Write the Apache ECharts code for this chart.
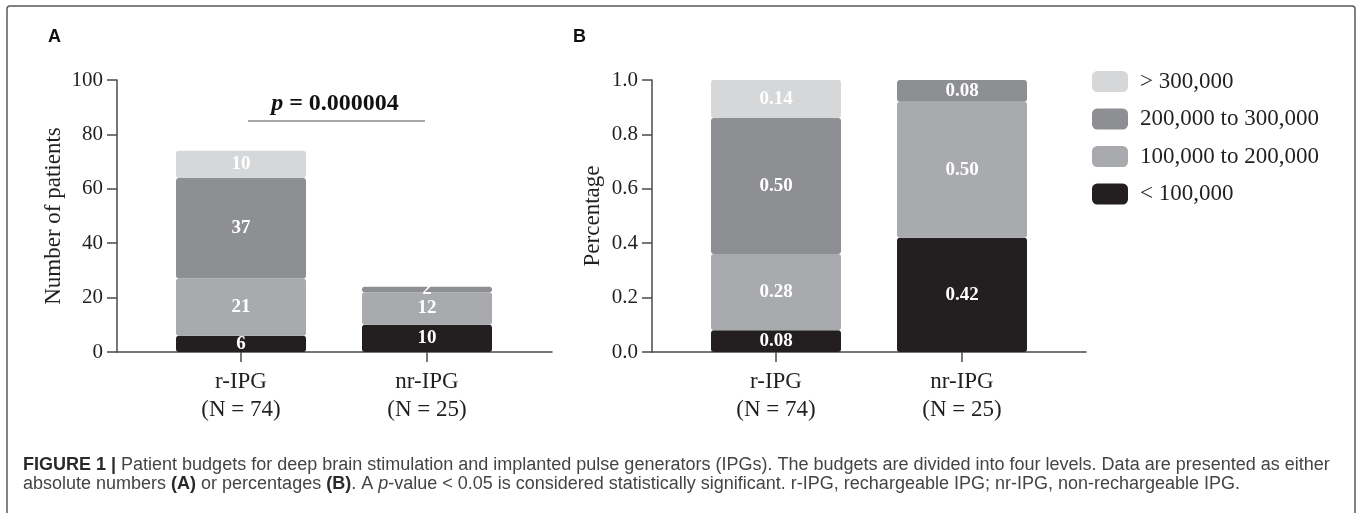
<!DOCTYPE html>
<html>
<head>
<meta charset="utf-8">
<script src="https://cdn.jsdelivr.net/npm/echarts@6/dist/echarts.min.js"></script>
<style>
html,body{margin:0;padding:0;background:#fff;}
#chart{width:1357px;height:513px;}
</style>
</head>
<body>
<div id="chart"></div>
<script>
// ---- data ----
const categories = ['r-IPG\n(N = 74)', 'nr-IPG\n(N = 25)'];
const levels = ['< 100,000', '100,000 to 200,000', '200,000 to 300,000', '> 300,000'];
const legendOrder = ['> 300,000', '200,000 to 300,000', '100,000 to 200,000', '< 100,000'];
// Panel A: number of patients
const countLt100k = [6, 10];
const count100to200k = [21, 12];
const count200to300k = [37, 2];
const countGt300k = [10, null];
// Panel B: percentage
const pctLt100k = [0.08, 0.42];
const pct100to200k = [0.28, 0.50];
const pct200to300k = [0.50, 0.08];
const pctGt300k = [0.14, null];
const yTicksA = [0, 20, 40, 60, 80, 100];
const yTicksB = [0, 0.2, 0.4, 0.6, 0.8, 1.0];
const pValueText = '0.000004';

const colors = ['#231f20', '#a9aaae', '#8e8f93', '#d6d7d9'];
const serif = '"Liberation Serif", "Times New Roman", serif';
const axisColor = '#4a4a4a';
const textColor = '#231f20';

const seriesA = [countLt100k, count100to200k, count200to300k, countGt300k];
const seriesB = [pctLt100k, pct100to200k, pct200to300k, pctGt300k];

function makeSeries(arrs, axisIdx, fmt) {
  return arrs.map((arr, k) => ({
    name: levels[k],
    type: 'bar',
    xAxisIndex: axisIdx,
    yAxisIndex: axisIdx,
    stack: 'g' + axisIdx,
    barWidth: 130,
    data: arr.map(v => (v == null ? '-' : v)),
    itemStyle: { color: colors[k], borderRadius: 3 },
    label: {
      show: true, position: 'inside', color: '#ffffff',
      fontFamily: serif, fontWeight: 'bold', fontSize: 19,
      formatter: p => (typeof p.value === 'number' ? fmt(p.value) : '')
    },
    emphasis: { disabled: true }
  }));
}

// wide frame axis: only the horizontal axis line
function frameXAxis(gridIdx) {
  return {
    type: 'value', gridIndex: gridIdx, min: 0, max: 1,
    axisLine: { show: true, onZero: false, lineStyle: { color: axisColor, width: 1.5 } },
    axisTick: { show: false }, axisLabel: { show: false }, splitLine: { show: false }
  };
}
// category axis for bars: ticks and labels only
function catXAxis(gridIdx) {
  return {
    type: 'category', gridIndex: gridIdx, data: categories,
    axisLine: { show: false },
    axisTick: { show: true, alignWithLabel: true, length: 10, lineStyle: { color: axisColor, width: 1.5 } },
    axisLabel: { margin: 16, fontFamily: serif, fontSize: 23, color: textColor, lineHeight: 28 },
    splitLine: { show: false }
  };
}
function visYAxis(gridIdx, ticks, name, nameGap, fmt) {
  return {
    type: 'value', gridIndex: gridIdx,
    min: ticks[0], max: ticks[ticks.length - 1], interval: ticks[1] - ticks[0],
    name: name, nameLocation: 'middle', nameGap: nameGap,
    nameTextStyle: { fontFamily: serif, fontSize: 23, color: textColor },
    axisLine: { show: true, onZero: false, lineStyle: { color: axisColor, width: 1.5 } },
    axisTick: { show: true, length: 10, lineStyle: { color: axisColor, width: 1.5 } },
    axisLabel: { margin: 14, fontFamily: serif, fontSize: 21, color: textColor, formatter: fmt },
    splitLine: { show: false }
  };
}
function hidYAxis(gridIdx, ticks) {
  return {
    type: 'value', gridIndex: gridIdx, show: false,
    min: ticks[0], max: ticks[ticks.length - 1], interval: ticks[1] - ticks[0],
    splitLine: { show: false }
  };
}

const chart = echarts.init(document.getElementById('chart'), null, { renderer: 'canvas' });
chart.setOption({
  animation: false,
  backgroundColor: '#ffffff',
  grid: [
    { left: 117, top: 80, width: 435, height: 272 },   // A frame
    { left: 148, top: 80, width: 372, height: 272 },   // A bars
    { left: 652, top: 80, width: 434, height: 272 },   // B frame
    { left: 683, top: 80, width: 372, height: 272 }    // B bars
  ],
  xAxis: [frameXAxis(0), catXAxis(1), frameXAxis(2), catXAxis(3)],
  yAxis: [
    visYAxis(0, yTicksA, 'Number of patients', 52, v => String(v)),
    hidYAxis(1, yTicksA),
    visYAxis(2, yTicksB, 'Percentage', 48, v => v.toFixed(1)),
    hidYAxis(3, yTicksB)
  ],
  legend: {
    data: legendOrder.map(n => ({ name: n, icon: 'roundRect' })),
    orient: 'vertical', left: 1092, top: 70, padding: 0,
    itemWidth: 36, itemHeight: 21, itemGap: 14.5,
    textStyle: { fontFamily: serif, fontSize: 23, lineHeight: 21, color: textColor, padding: [0, 0, 0, 7] },
    selectedMode: false
  },
  series: [
    ...makeSeries(seriesA, 1, v => String(v)),
    ...makeSeries(seriesB, 3, v => v.toFixed(2))
  ],
  graphic: [
    { type: 'rect', silent: true, shape: { x: 7, y: 6, width: 1348, height: 530, r: 3 },
      style: { fill: 'none', stroke: '#5a5a5a', lineWidth: 1.5 } },
    { type: 'text', left: 48, top: 28, style: { text: 'A', font: 'bold 18px "Liberation Sans", Arial, sans-serif', fill: '#111' } },
    { type: 'text', left: 573, top: 28, style: { text: 'B', font: 'bold 18px "Liberation Sans", Arial, sans-serif', fill: '#111' } },
    { type: 'text', x: 335, y: 104, style: {
        text: '{i|p} = ' + pValueText, align: 'center', verticalAlign: 'middle',
        font: 'bold 24px "Liberation Serif", serif', fill: '#111',
        rich: { i: { fontStyle: 'italic', fontWeight: 'bold', fontSize: 24, fontFamily: 'Liberation Serif' } }
      } },
    { type: 'line', shape: { x1: 248, y1: 121, x2: 425, y2: 121 }, style: { stroke: '#8a8a8a', lineWidth: 1.5 } },
    { type: 'text', x: 23, y: 455.5, style: {
        text: '{b|FIGURE 1 |} Patient budgets for deep brain stimulation and implanted pulse generators (IPGs). The budgets are divided into four levels. Data are presented as either\nabsolute numbers {b|(A)} or percentages {b|(B)}. A {i|p}-value < 0.05 is considered statistically significant. r-IPG, rechargeable IPG; nr-IPG, non-rechargeable IPG.',
        font: '18px "Liberation Sans", Arial, sans-serif', fill: '#444444', lineHeight: 19,
        rich: {
          b: { fontWeight: 'bold', fontSize: 18, fontFamily: 'Liberation Sans', fill: '#2a2a2a', lineHeight: 19 },
          i: { fontStyle: 'italic', fontSize: 18, fontFamily: 'Liberation Sans', lineHeight: 19 }
        }
      } }
  ]
});
</script>
</body>
</html>
